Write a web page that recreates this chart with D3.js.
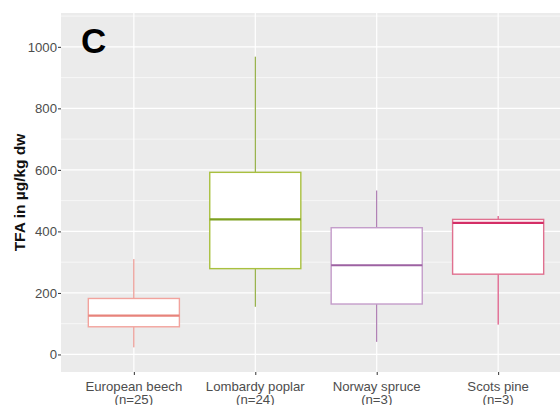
<!DOCTYPE html>
<html lang="en">
<head>
  <meta charset="utf-8">
  <title>TFA boxplot</title>
  <script src="https://cdn.jsdelivr.net/npm/d3@7"></script>
  <style>
    body { margin: 0; background: #fff; overflow: hidden; }
    text { font-family: "Liberation Sans", Arial, sans-serif; }
    .tick-label { font-size: 13.2px; fill: #4d4d4d; }
  </style>
</head>
<body>
  <div id="chart"></div>
  <script>
    // data
    const species = ["European beech", "Lombardy poplar", "Norway spruce", "Scots pine"];
    const counts = ["(n=25)", "(n=24)", "(n=3)", "(n=3)"];
    const whiskLow = [23, 155, 41, 97];
    const q1 = [90, 279, 164, 261];
    const median = [126, 439, 290, 428];
    const q3 = [182, 592, 412, 439];
    const whiskHigh = [310, 968, 533, 450];
    const yTicks = [0, 200, 400, 600, 800, 1000];
    const yMinor = [100, 300, 500, 700, 900, 1100];

    const boxStroke = ["#f2a39d", "#a9c03f", "#c49dca", "#e0708f"];
    const midStroke = ["#e7837b", "#7d9f1f", "#9d62a2", "#d42e66"];

    const W = 560, H = 405;
    const panel = { left: 61, top: 13, right: 571, bottom: 372 };

    const svg = d3.select("#chart").append("svg").attr("width", W).attr("height", H);

    const x = d3.scalePoint().domain(species).range([panel.left, panel.right]).padding(0.6);
    const y = d3.scaleLinear().domain([-57, 1110]).range([panel.bottom, panel.top]);
    const boxW = x.step() * 0.75;

    // panel background + grid
    svg.append("rect")
      .attr("x", panel.left).attr("y", panel.top)
      .attr("width", panel.right - panel.left).attr("height", panel.bottom - panel.top)
      .attr("fill", "#ebebeb");

    const grid = svg.append("g");
    grid.selectAll(".minor").data(yMinor).enter().append("line")
      .attr("x1", panel.left).attr("x2", panel.right)
      .attr("y1", d => y(d)).attr("y2", d => y(d))
      .attr("stroke", "#fff").attr("stroke-width", 0.6);
    grid.selectAll(".major").data(yTicks).enter().append("line")
      .attr("x1", panel.left).attr("x2", panel.right)
      .attr("y1", d => y(d)).attr("y2", d => y(d))
      .attr("stroke", "#fff").attr("stroke-width", 1.2);
    grid.selectAll(".vmajor").data(species).enter().append("line")
      .attr("x1", d => x(d)).attr("x2", d => x(d))
      .attr("y1", panel.top).attr("y2", panel.bottom)
      .attr("stroke", "#fff").attr("stroke-width", 1.2);

    // boxes
    const boxes = svg.append("g").selectAll("g").data(species).enter().append("g");

    boxes.append("line")
      .attr("x1", d => x(d)).attr("x2", d => x(d))
      .attr("y1", (d, i) => y(whiskHigh[i])).attr("y2", (d, i) => y(q3[i]))
      .attr("stroke", (d, i) => midStroke[i]).attr("stroke-width", 1);
    boxes.append("line")
      .attr("x1", d => x(d)).attr("x2", d => x(d))
      .attr("y1", (d, i) => y(q1[i])).attr("y2", (d, i) => y(whiskLow[i]))
      .attr("stroke", (d, i) => midStroke[i]).attr("stroke-width", 1);
    boxes.append("rect")
      .attr("x", d => x(d) - boxW / 2).attr("width", boxW)
      .attr("y", (d, i) => y(q3[i]))
      .attr("height", (d, i) => y(q1[i]) - y(q3[i]))
      .attr("fill", "#fff")
      .attr("stroke", (d, i) => boxStroke[i]).attr("stroke-width", 1.4);
    boxes.append("line")
      .attr("x1", d => x(d) - boxW / 2).attr("x2", d => x(d) + boxW / 2)
      .attr("y1", (d, i) => y(median[i])).attr("y2", (d, i) => y(median[i]))
      .attr("stroke", (d, i) => midStroke[i]).attr("stroke-width", 2.2);

    // y axis
    const yAxis = svg.append("g").attr("transform", `translate(${panel.left},0)`)
      .call(d3.axisLeft(y).tickValues(yTicks).tickSize(3).tickPadding(1).tickFormat(d3.format("d")));
    yAxis.select(".domain").remove();
    yAxis.selectAll("line").attr("stroke", "#333");
    yAxis.selectAll("text").attr("class", "tick-label").attr("font-size", null).attr("font-family", null)
      .attr("fill", null);

    // x axis
    const xAxis = svg.append("g").attr("transform", `translate(0,${panel.bottom})`)
      .call(d3.axisBottom(x).tickSize(3).tickFormat(""));
    xAxis.select(".domain").remove();
    xAxis.selectAll("line").attr("stroke", "#333");

    const xl = svg.append("g").selectAll("text").data(species).enter().append("text")
      .attr("class", "tick-label")
      .attr("x", d => x(d)).attr("y", 390.5)
      .attr("text-anchor", "middle");
    xl.append("tspan").attr("x", d => x(d)).text(d => d);
    xl.append("tspan").attr("x", d => x(d)).attr("dy", 13.5).text((d, i) => counts[i]);

    // axis title
    svg.append("text")
      .attr("transform", `translate(25,${(panel.top + panel.bottom) / 2}) rotate(-90)`)
      .attr("text-anchor", "middle")
      .attr("font-size", 15.5).attr("font-weight", "bold").attr("fill", "#111")
      .text("TFA in µg/kg dw");

    // panel letter
    svg.append("text")
      .attr("x", 81).attr("y", 53)
      .attr("font-size", 35).attr("font-weight", "bold").attr("fill", "#000")
      .text("C");
  </script>
</body>
</html>
